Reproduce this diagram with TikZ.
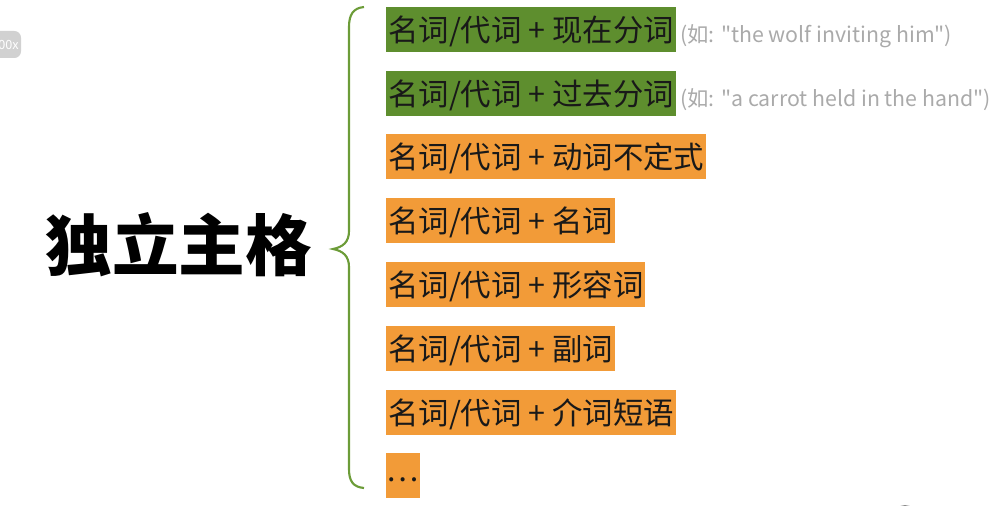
\documentclass[tikz,border=0pt]{standalone}
\usepackage{fontspec}
\setmainfont{Noto Sans CJK SC}
\newfontfamily\notefont{Noto Sans CJK SC}
\definecolor{leafgreen}{RGB}{94,142,46}
\definecolor{bracegreen}{RGB}{108,156,56}
\definecolor{boxorange}{RGB}{242,155,56}
\definecolor{notegrey}{RGB}{170,170,170}
\begin{document}
\begin{tikzpicture}[x=0.75pt,y=-0.75pt,
    item/.style={anchor=west,inner xsep=1.5pt,inner ysep=0pt,minimum height=33.75pt,
        text height=20pt,text depth=2.7pt,font=\fontsize{22.8}{26}\selectfont,text=black!90},
    greenitem/.style={item,fill=leafgreen},
    orangeitem/.style={item,fill=boxorange},
    note/.style={anchor=base west,inner sep=0pt,text=notegrey,font=\notefont\fontsize{16}{19}\selectfont}]
    \useasboundingbox (0,0) rectangle (1001,506);
    % zoom badge, cut off at the left edge
    \fill[black!18,rounded corners=5pt] (-30,31) rectangle (21,58);
    \node[anchor=east,inner sep=0pt,text=white,font=\fontsize{9.5}{12}\selectfont] (badge) at (19,45) {00x};
    \fill[black!45] (905,517) circle (12);
    % title
    \node[font=\fontsize{50}{56}\selectfont\bfseries] (title) at (179,245) {独立主格};
    % brace
    \draw[bracegreen,line width=1.6pt]
        (364,7) .. controls (353,8) and (349,15) .. (349,27) -- (349,231)
        .. controls (349,242) and (343,247) .. (333,249)
        .. controls (343,251) and (349,256) .. (349,267) -- (349,469)
        .. controls (349,481) and (353,487) .. (364,488);
    % items
    \node[greenitem] (r1) at (386,29.5) {名词/代词 + 现在分词};
    \node[greenitem] (r2) at (386,93.5) {名词/代词 + 过去分词};
    \node[orangeitem] (r3) at (386,156.5) {名词/代词 + 动词不定式};
    \node[orangeitem] (r4) at (386,220.5) {名词/代词 + 名词};
    \node[orangeitem] (r5) at (386,284.5) {名词/代词 + 形容词};
    \node[orangeitem] (r6) at (386,348.5) {名词/代词 + 副词};
    \node[orangeitem] (r7) at (386,412.5) {名词/代词 + 介词短语};
    \node[orangeitem,inner xsep=0.5pt] (r8) at (386,475.5) {\raisebox{4.5pt}{…}};
    % examples
    \node[note] (n1) at ([xshift=3pt,yshift=-1pt]r1.base east) {(如: "the wolf inviting him")};
    \node[note] (n2) at ([xshift=3pt,yshift=-1pt]r2.base east) {(如: "a carrot held in the hand")};
\end{tikzpicture}
\end{document}
